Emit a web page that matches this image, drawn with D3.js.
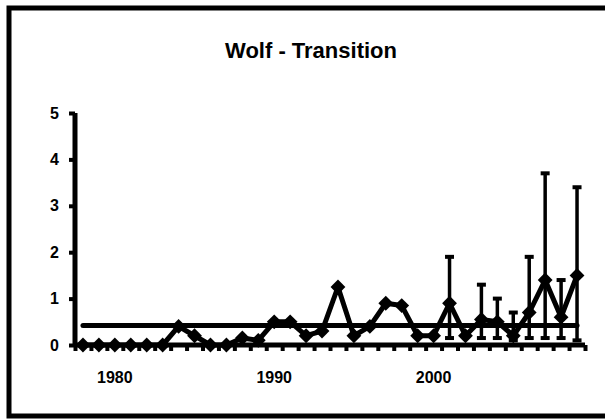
<!DOCTYPE html>
<html>
<head>
<meta charset="utf-8">
<script src="https://cdn.jsdelivr.net/npm/d3@7"></script>
<style>
    body { margin: 0; background: white; }
    svg text { font-family: "Liberation Sans", Arial, sans-serif; font-weight: bold; fill: black; }
</style>
</head>
<body>
<div id="chart"></div>
<script>
// Data
const years = [1978, 1979, 1980, 1981, 1982, 1983, 1984, 1985, 1986, 1987, 1988, 1989, 1990, 1991, 1992, 1993,
    1994, 1995, 1996, 1997, 1998, 1999, 2000, 2001, 2002, 2003, 2004, 2005, 2006, 2007, 2008, 2009];
const values = [0, 0, 0, 0, 0, 0, 0.4, 0.2, 0, 0, 0.15, 0.1, 0.5, 0.5, 0.2, 0.3,
    1.25, 0.2, 0.4, 0.9, 0.85, 0.2, 0.2, 0.9, 0.2, 0.55, 0.5, 0.2, 0.7, 1.4, 0.6, 1.5];
const errHigh = [null, null, null, null, null, null, null, null, null, null, null, null, null, null, null, null,
    null, null, null, null, null, null, null, 1.9, null, 1.3, 1.0, 0.7, 1.9, 3.7, 1.4, 3.4];
const errLow = [null, null, null, null, null, null, null, null, null, null, null, null, null, null, null, null,
    null, null, null, null, null, null, null, 0.15, null, 0.15, 0.15, 0.1, 0.15, 0.15, 0.15, 0.1];
const meanValue = 0.42;
const yTicks = [0, 1, 2, 3, 4, 5];
const xLabels = [1980, 1990, 2000];
const title = "Wolf - Transition";

const [w, h] = [605, 419];
const [plotLeft, plotRight, plotTop, plotBottom] = [75, 585, 113, 345];

const svg = d3.select("#chart")
    .append("svg")
    .attr("width", w)
    .attr("height", h);

// Outer frame
svg.append("rect")
    .attr("x", 9)
    .attr("y", 8)
    .attr("width", 640)
    .attr("height", 408)
    .attr("fill", "white")
    .attr("stroke", "black")
    .attr("stroke-width", 5);

svg.append("text")
    .attr("x", 311)
    .attr("y", 58)
    .attr("text-anchor", "middle")
    .style("font-size", "22px")
    .text(title);

// Scales
const xScale = d3.scaleBand()
    .domain(years)
    .range([plotLeft, plotRight]);
const xEdge = d3.scaleLinear()
    .domain([0, years.length])
    .range([plotLeft, plotRight]);
const yScale = d3.scaleLinear()
    .domain([0, 5])
    .range([plotBottom, plotTop]);
const cx = d => xScale(d) + xScale.bandwidth() / 2;

// Y axis
const yAxis = svg.append("g")
    .attr("transform", `translate(${plotLeft}, 0)`)
    .call(d3.axisLeft(yScale).tickValues(yTicks).tickSize(6).tickPadding(10).tickFormat(d3.format("d")));
yAxis.select(".domain").attr("stroke-width", 5).attr("d", `M0,${plotTop}V${plotBottom}`);
yAxis.selectAll(".tick line").attr("stroke-width", 4);
yAxis.selectAll("text").style("font-size", "16px").attr("font-family", null);

// X axis: tick marks between categories, labels every 10 years
const xTickAxis = svg.append("g")
    .attr("transform", `translate(0, ${plotBottom})`)
    .call(d3.axisBottom(xEdge).tickValues(d3.range(years.length + 1)).tickSize(6).tickFormat(""));
xTickAxis.select(".domain").attr("stroke-width", 5).attr("d", `M${plotLeft},0H${plotRight}`);
xTickAxis.selectAll(".tick line").attr("stroke-width", 4);

const xAxis = svg.append("g")
    .attr("transform", `translate(0, ${plotBottom})`)
    .call(d3.axisBottom(xScale).tickValues(xLabels).tickSize(0).tickPadding(27));
xAxis.select(".domain").remove();
xAxis.selectAll("text").style("font-size", "16px").attr("font-family", null);

// Mean line
svg.append("line")
    .attr("x1", cx(years[0]))
    .attr("x2", cx(years[years.length - 1]))
    .attr("y1", yScale(meanValue))
    .attr("y2", yScale(meanValue))
    .attr("stroke", "black")
    .attr("stroke-width", 5)
    .attr("stroke-linecap", "round");

// Error bars
const errData = years.map((y, i) => [y, errLow[i], errHigh[i]]).filter(d => d[2] != null);
svg.selectAll("line.err")
    .data(errData)
    .enter()
    .append("line")
    .attr("class", "err")
    .attr("x1", d => cx(d[0]))
    .attr("x2", d => cx(d[0]))
    .attr("y1", d => yScale(d[1]))
    .attr("y2", d => yScale(d[2]))
    .attr("stroke", "black")
    .attr("stroke-width", 3.5);
svg.selectAll("line.cap-hi")
    .data(errData)
    .enter()
    .append("line")
    .attr("class", "cap-hi")
    .attr("x1", d => cx(d[0]) - 4.5)
    .attr("x2", d => cx(d[0]) + 4.5)
    .attr("y1", d => yScale(d[2]))
    .attr("y2", d => yScale(d[2]))
    .attr("stroke", "black")
    .attr("stroke-width", 4);
svg.selectAll("line.cap-lo")
    .data(errData)
    .enter()
    .append("line")
    .attr("class", "cap-lo")
    .attr("x1", d => cx(d[0]) - 4.5)
    .attr("x2", d => cx(d[0]) + 4.5)
    .attr("y1", d => yScale(d[1]))
    .attr("y2", d => yScale(d[1]))
    .attr("stroke", "black")
    .attr("stroke-width", 4);

// Data line
const line = d3.line()
    .x((d, i) => cx(years[i]))
    .y(d => yScale(d));
svg.append("path")
    .datum(values)
    .attr("d", line)
    .attr("fill", "none")
    .attr("stroke", "black")
    .attr("stroke-width", 5)
    .attr("stroke-linejoin", "round");

// Diamond markers
const diamond = d3.symbol().type(d3.symbolSquare).size(110);
svg.selectAll("path.marker")
    .data(values)
    .enter()
    .append("path")
    .attr("class", "marker")
    .attr("d", diamond)
    .attr("transform", (d, i) => `translate(${cx(years[i])}, ${yScale(d)}) rotate(45)`)
    .attr("fill", "black");
</script>
</body>
</html>
